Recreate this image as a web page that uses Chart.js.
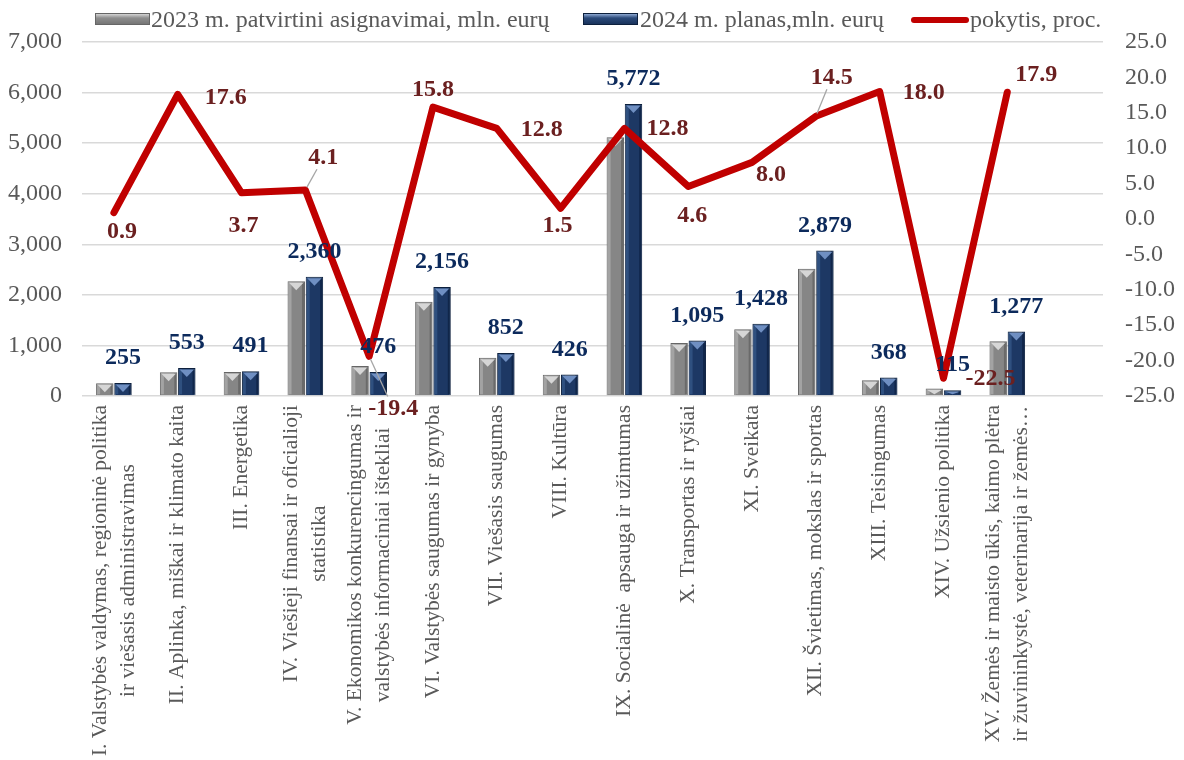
<!DOCTYPE html>
<html>
<head>
<meta charset="utf-8">
<script src="https://cdn.jsdelivr.net/npm/chart.js@4.4.0/dist/chart.umd.min.js"></script>
<style>
    body { margin: 0; background: #fff; }
    #wrap { position: relative; width: 1184px; height: 760px; }
    #legend { position: absolute; left: 0; top: 0; width: 1184px; height: 40px; font: 24px 'Liberation Serif', 'Times New Roman', serif; color: #595959; }
    .lg { position: absolute; top: 7px; line-height: 24px; white-space: nowrap; }
    .box { position: absolute; top: 13px; width: 55px; height: 12px; box-sizing: border-box; }
    .gray { background: linear-gradient(#d4d4d4, #8e8e8e 40%, #767676); border: 1px solid #666; }
    .navy { background: linear-gradient(#8ea9d3, #2b4a7a 40%, #19335c); border: 1px solid #0d203d; }
    .redline { position: absolute; top: 17px; width: 58px; height: 6px; border-radius: 3px; background: #c00000; }
</style>
</head>
<body>
<div id="wrap">
    <canvas id="chart" width="1184" height="760"></canvas>
    <div id="legend">
        <span class="box gray" style="left:95px"></span><span class="lg" style="left:151px">2023 m. patvirtini asignavimai, mln. eurų</span>
        <span class="box navy" style="left:583px"></span><span class="lg" style="left:640px">2024 m. planas,mln. eurų</span>
        <span class="redline" style="left:911px"></span><span class="lg" style="left:970px">pokytis, proc.</span>
    </div>
</div>
<script>
const categories = [
    ['I. Valstybės valdymas, regioninė politika', 'ir viešasis administravimas'],
    'II. Aplinka, miškai ir klimato kaita',
    'III. Energetika',
    ['IV. Viešieji finansai ir oficialioji', 'statistika'],
    ['V. Ekonomikos konkurencingumas ir', 'valstybės informaciniai ištekliai'],
    'VI. Valstybės saugumas ir gynyba',
    'VII. Viešasis saugumas',
    'VIII. Kultūra',
    'IX. Socialinė  apsauga ir užimtumas',
    'X. Transportas ir ryšiai',
    'XI. Sveikata',
    'XII. Švietimas, mokslas ir sportas',
    'XIII. Teisingumas',
    'XIV. Užsienio politika',
    ['XV. Žemės ir maisto ūkis, kaimo plėtra', 'ir žuvininkystė, veterinarija ir žemės…'],
    ''
]
const approved2023 = [253, 470, 473, 2267, 591, 1862, 755, 420, 5117, 1047, 1322, 2514, 312, 148, 1083]
const plan2024 = [255, 553, 491, 2360, 476, 2156, 852, 426, 5772, 1095, 1428, 2879, 368, 115, 1277]
const change = [0.9, 17.6, 3.7, 4.1, -19.4, 15.8, 12.8, 1.5, 12.8, 4.6, 8.0, 14.5, 18.0, -22.5, 17.9]

const leftTicks = [0, 7000, 1000]
const rightTicks = [-25, 25, 5]

// label placement for the % values, relative to each point
const changeLabelOffset = [[8, 19], [48, 3], [2, 33], [18, -32], [24, 52], [0, -17], [45, 1], [-3, 17],
    [43, 0], [4, 29], [19, 12], [16, -39], [44, 1], [47, 0], [29, -17]]
const leaderLines = [3, 4, 11]

const serif = "'Liberation Serif', 'Times New Roman', serif"

const bevelColors = {
    0: { top: '#d6d6d6', light: '#a3a3a3', dark: '#6a6a6a' },
    1: { top: '#6f8fc2', light: '#2f507f', dark: '#10264a' }
}

const bevel = {
    id: 'bevel',
    afterDatasetDraw(chart, args) {
        if (args.meta.type !== 'bar') return
        const ctx = chart.ctx
        const c = bevelColors[args.index]
        ctx.save()
        args.meta.data.forEach(bar => {
            const l = bar.x - bar.width / 2, r = bar.x + bar.width / 2, t = bar.y, b = bar.base
            const h = b - t
            if (h < 3) return
            ctx.fillStyle = c.light
            ctx.fillRect(l + 1, t + 1, 3, h - 2)
            ctx.fillStyle = c.dark
            ctx.fillRect(r - 3, t + 1, 2, h - 2)
            ctx.beginPath()
            ctx.moveTo(l + 1.5, t + 1.5)
            ctx.lineTo(r - 1.5, t + 1.5)
            ctx.lineTo(bar.x, t + Math.min(9, h - 1))
            ctx.closePath()
            ctx.fillStyle = c.top
            ctx.fill()
        })
        ctx.restore()
    }
}

const xLabels = {
    id: 'xLabels',
    afterDraw(chart) {
        const ctx = chart.ctx, sc = chart.scales.x
        ctx.save()
        ctx.font = '21.5px ' + serif
        ctx.fillStyle = '#595959'
        ctx.textAlign = 'center'
        ctx.textBaseline = 'middle'
        categories.forEach((lab, i) => {
            const lines = Array.isArray(lab) ? lab : [lab]
            const w = Math.max(...lines.map(s => ctx.measureText(s).width))
            ctx.save()
            ctx.translate(sc.getPixelForTick(i), sc.top + 9)
            ctx.rotate(-Math.PI / 2)
            lines.forEach((s, j) => {
                ctx.fillText(s, -w / 2, (j - (lines.length - 1) / 2) * 28)
            })
            ctx.restore()
        })
        ctx.restore()
    }
}

const valueLabels = {
    id: 'valueLabels',
    afterDatasetsDraw(chart) {
        const ctx = chart.ctx
        ctx.save()
        ctx.textAlign = 'center'
        ctx.textBaseline = 'middle'
        ctx.font = 'bold 24px ' + serif

        const pts = chart.getDatasetMeta(2).data
        ctx.strokeStyle = '#a6a6a6'
        ctx.lineWidth = 1.3
        leaderLines.forEach(i => {
            const p = pts[i], d = changeLabelOffset[i]
            const len = Math.hypot(d[0], d[1])
            const t1 = 3 / len, t2 = 1 - 13 / len
            ctx.beginPath()
            ctx.moveTo(p.x + d[0] * t1, p.y + d[1] * t1)
            ctx.lineTo(p.x + d[0] * t2, p.y + d[1] * t2)
            ctx.stroke()
        })

        ctx.fillStyle = '#0c2a5c'
        chart.getDatasetMeta(1).data.forEach((bar, i) => {
            ctx.fillText(plan2024[i].toLocaleString('en-US'), bar.x, bar.y - 25)
        })

        ctx.fillStyle = '#6b2020'
        pts.forEach((p, i) => {
            const d = changeLabelOffset[i]
            ctx.fillText(change[i].toFixed(1), p.x + d[0], p.y + d[1])
        })
        ctx.restore()
    }
}

new Chart(document.getElementById('chart'), {
    type: 'bar',
    data: {
        labels: categories,
        datasets: [{
            label: '2023 m. patvirtini asignavimai, mln. eurų',
            data: approved2023,
            backgroundColor: '#868686',
            borderColor: '#666666',
            borderWidth: 1,
            categoryPercentage: 0.57,
            barPercentage: 0.96,
            yAxisID: 'y',
            order: 1
        }, {
            label: '2024 m. planas,mln. eurų',
            data: plan2024,
            backgroundColor: '#1d3864',
            borderColor: '#0d203d',
            borderWidth: 1,
            categoryPercentage: 0.57,
            barPercentage: 0.96,
            yAxisID: 'y',
            order: 2
        }, {
            type: 'line',
            label: 'pokytis, proc.',
            data: change,
            borderColor: '#c00000',
            backgroundColor: '#c00000',
            borderWidth: 7,
            borderJoinStyle: 'round',
            borderCapStyle: 'round',
            pointRadius: 0,
            tension: 0,
            yAxisID: 'y1',
            order: 0
        }]
    },
    options: {
        responsive: false,
        animation: false,
        layout: { padding: { top: 42, left: 0, right: 0, bottom: 0 } },
        plugins: {
            legend: { display: false },
            tooltip: { enabled: false }
        },
        scales: {
            x: {
                grid: { display: false },
                border: { display: false },
                ticks: { display: false },
                afterFit: scale => { scale.height = 364 }
            },
            y: {
                position: 'left',
                min: leftTicks[0],
                max: leftTicks[1],
                ticks: {
                    stepSize: leftTicks[2],
                    padding: 20,
                    color: '#595959',
                    font: { family: serif, size: 24 },
                    callback: v => v.toLocaleString('en-US')
                },
                grid: { color: '#d9d9d9', lineWidth: 1.5, drawTicks: false },
                border: { display: false },
                afterFit: scale => { scale.width = 82 }
            },
            y1: {
                position: 'right',
                min: rightTicks[0],
                max: rightTicks[1],
                ticks: {
                    stepSize: rightTicks[2],
                    padding: 22,
                    color: '#595959',
                    font: { family: serif, size: 24 },
                    callback: v => v.toFixed(1)
                },
                grid: { display: false, drawTicks: false },
                border: { display: false },
                afterFit: scale => { scale.width = 81 }
            }
        }
    },
    plugins: [bevel, valueLabels, xLabels]
})
</script>
</body>
</html>
